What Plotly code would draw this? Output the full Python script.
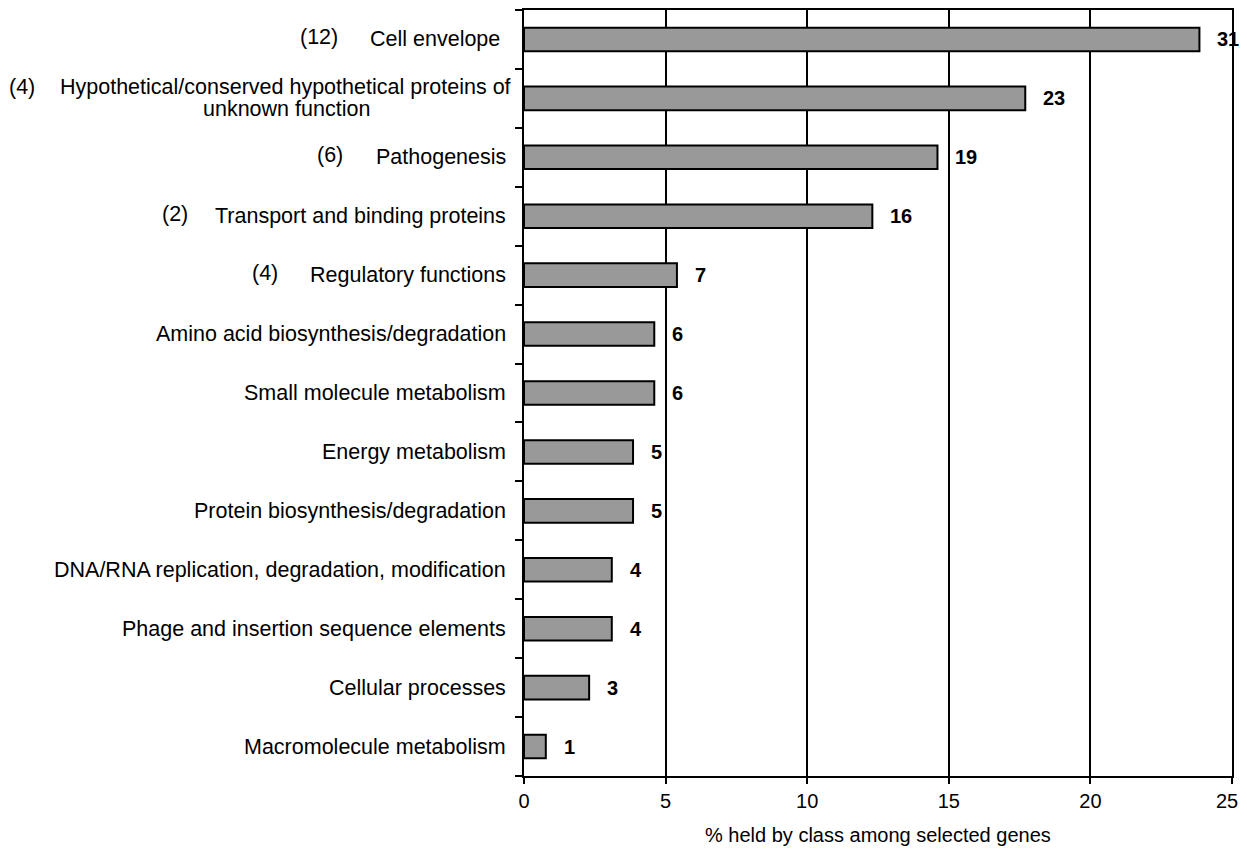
import plotly.graph_objects as go

categories = [
    "Cell envelope",
    "Hypothetical/conserved hypothetical proteins of<br>unknown function",
    "Pathogenesis",
    "Transport and binding proteins",
    "Regulatory functions",
    "Amino acid biosynthesis/degradation",
    "Small molecule metabolism",
    "Energy metabolism",
    "Protein biosynthesis/degradation",
    "DNA/RNA replication, degradation, modification",
    "Phage and insertion sequence elements",
    "Cellular processes",
    "Macromolecule metabolism",
]
prefixes = ["(12)", "(4)", "(6)", "(2)", "(4)", "", "", "", "", "", "", "", ""]
percent = [23.85, 17.7, 14.6, 12.3, 5.4, 4.6, 4.6, 3.85, 3.85, 3.1, 3.1, 2.3, 0.77]
counts = [31, 23, 19, 16, 7, 6, 6, 5, 5, 4, 4, 3, 1]
x_ticks = [0, 5, 10, 15, 20, 25]
x_title = "% held by class among selected genes"

FONT = "Liberation Sans, Arial, sans-serif"
FS = 21.5
# page body has an 8px margin: figure is drawn offset by (8, 8)
OFF = 8
W, H = 1247 - OFF, 858 - 2 * OFF
PLOT_LEFT, PLOT_RIGHT, PLOT_TOP, PLOT_BOTTOM = 524, 1232, 10, 776  # screenshot px
L = PLOT_LEFT - OFF
R = W + OFF - PLOT_RIGHT
T = PLOT_TOP - OFF
B = H + OFF - PLOT_BOTTOM

fig = go.Figure()
fig.add_trace(go.Bar(
    x=percent, y=list(range(len(categories))), orientation="h",
    marker=dict(color="#999999", line=dict(color="black", width=2)),
    width=0.4, hoverinfo="x",
))

annotations = []
for i, c in enumerate(categories):
    lines = c.split("<br>")
    if len(lines) == 1:
        shift = -22 if i == 0 else -16
        annotations.append(dict(
            x=0, xref="paper", y=i, yref="y", text=c, showarrow=False,
            xanchor="right", yanchor="middle", xshift=shift,
            font=dict(family=FONT, size=FS, color="black"),
        ))
    else:
        annotations.append(dict(
            x=0, xref="paper", y=i, yref="y", text=lines[0], showarrow=False,
            xanchor="right", yanchor="middle", xshift=-11, yshift=11,
            font=dict(family=FONT, size=FS, color="black"),
        ))
        annotations.append(dict(
            x=0, xref="paper", y=i, yref="y", text=lines[1], showarrow=False,
            xanchor="center", yanchor="middle", xshift=286 - PLOT_LEFT,
            yshift=-11,
            font=dict(family=FONT, size=FS, color="black"),
        ))
# prefix counts: right edge pixel positions in the screenshot
prefix_right = [340, 37, 345, 190, 280]
for i, p in enumerate(prefixes):
    if not p:
        continue
    yshift = 11 if i == 1 else 2
    annotations.append(dict(
        x=0, xref="paper", y=i, yref="y", text=p, showarrow=False,
        xanchor="right", yanchor="middle", xshift=prefix_right[i] - PLOT_LEFT,
        yshift=yshift,
        font=dict(family=FONT, size=FS, color="black"),
    ))
for i, (v, n) in enumerate(zip(percent, counts)):
    annotations.append(dict(
        x=v, xref="x", y=i, yref="y", text=f"<b>{n}</b>", showarrow=False,
        xanchor="left", yanchor="middle", xshift=16,
        font=dict(family=FONT, size=20, color="black"),
    ))
# last x tick label nudged left so it stays inside the page
annotations.append(dict(
    x=x_ticks[-1], xref="x", y=0, yref="paper", text=str(x_ticks[-1]),
    showarrow=False, xanchor="center", yanchor="middle", xshift=-5, yshift=-25,
    font=dict(family=FONT, size=20, color="black"),
))
# x-axis title
annotations.append(dict(
    x=0.5, xref="paper", y=0, yref="paper", text=x_title, showarrow=False,
    xanchor="center", yanchor="top", yshift=-46,
    font=dict(family=FONT, size=20, color="black"),
))

fig.update_layout(
    width=W, height=H,
    margin=dict(l=L, r=R, t=T, b=B),
    paper_bgcolor="white", plot_bgcolor="white",
    showlegend=False,
    annotations=annotations,
    font=dict(family=FONT, size=FS, color="black"),
)
fig.update_xaxes(
    range=[0, 25], tickvals=x_ticks,
    ticktext=[str(t) for t in x_ticks[:-1]] + [""],
    showgrid=True, gridcolor="black", gridwidth=2,
    showline=True, linecolor="black", linewidth=2, mirror=True,
    ticks="outside", ticklen=6, tickwidth=2, tickcolor="black",
    tickfont=dict(family=FONT, size=20, color="black"),
    zeroline=False, automargin=False,
)
fig.update_yaxes(
    range=[len(categories) - 0.5, -0.5],
    tickvals=[i - 0.5 for i in range(len(categories) + 1)],
    showticklabels=False, automargin=False,
    showgrid=False, zeroline=False,
    showline=True, linecolor="black", linewidth=2, mirror=True,
    ticks="outside", ticklen=7, tickwidth=2, tickcolor="black",
)

fig.write_html("out.html")
